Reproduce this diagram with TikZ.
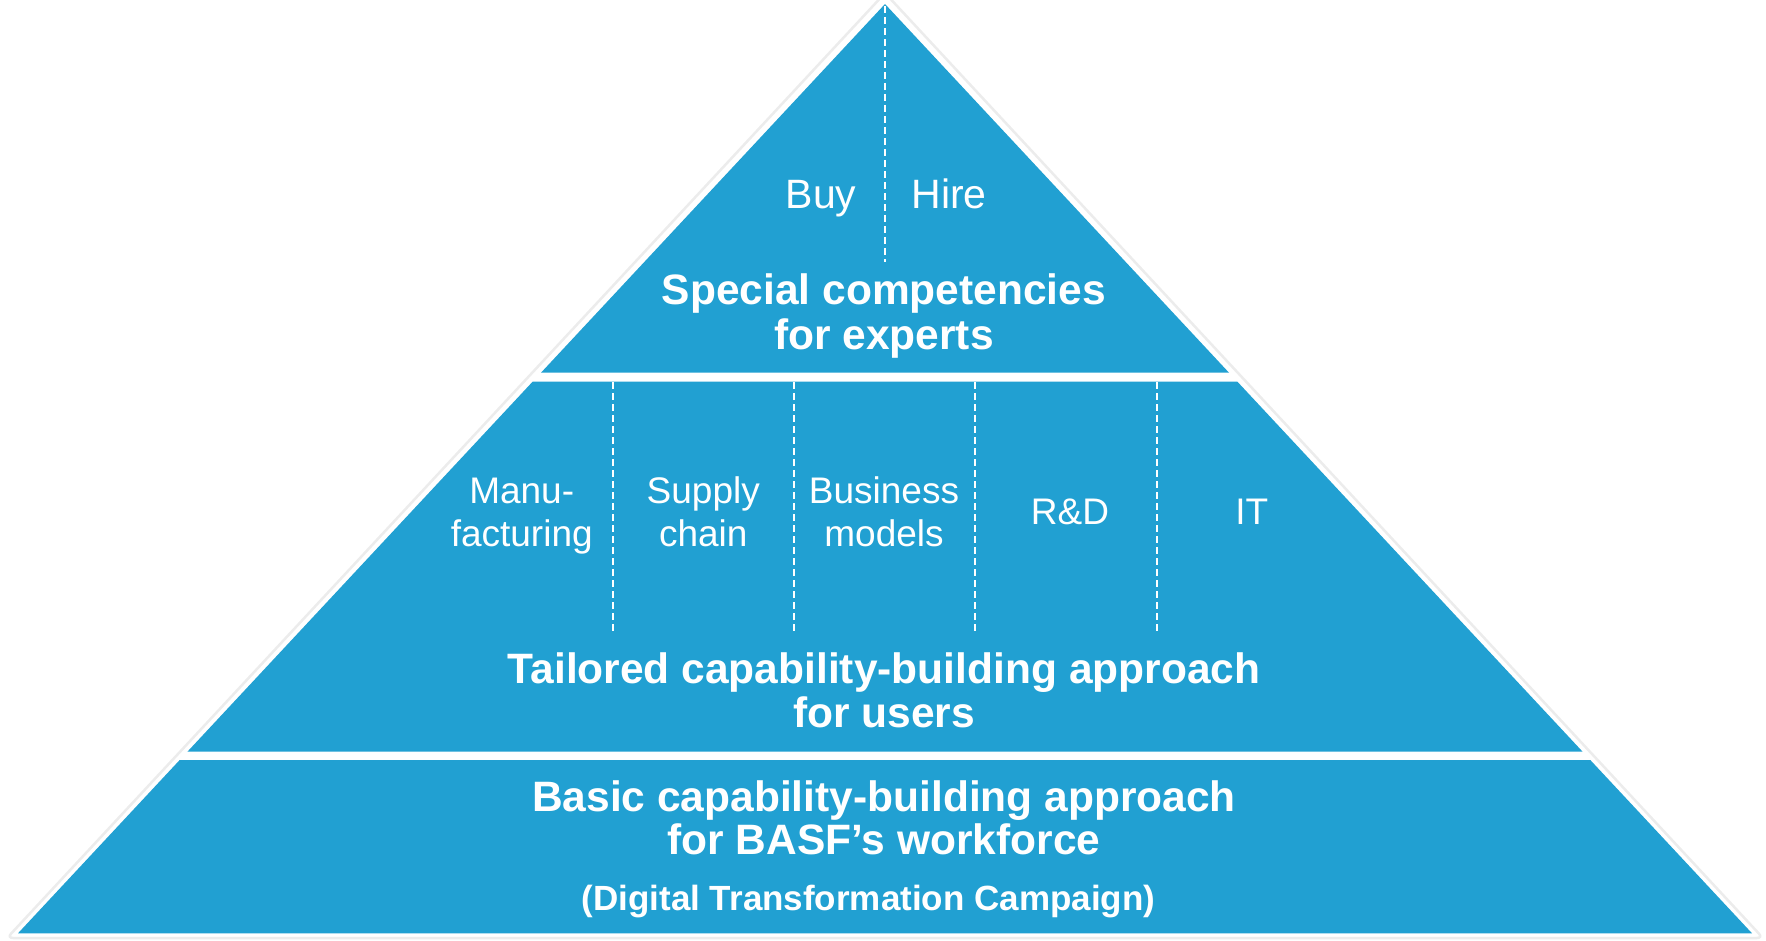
\documentclass[tikz,border=0pt]{standalone}
\usepackage{fontspec}
\setmainfont{Liberation Sans}
\definecolor{pyr}{RGB}{33,160,210}
\definecolor{shad}{RGB}{236,236,236}
\begin{document}
\begin{tikzpicture}[x=1pt,y=-1pt,
  tier/.style={fill=pyr,draw=none},
  sep/.style={draw=white,line width=2.3pt,dash pattern=on 7pt off 4pt},
  bigbold/.style={text=white,font=\fontsize{42.5}{45}\selectfont\bfseries,anchor=base,inner sep=0pt},
  smallbold/.style={text=white,font=\fontsize{35}{38}\selectfont\bfseries,anchor=base,inner sep=0pt},
  seg/.style={text=white,font=\fontsize{37}{43}\selectfont,anchor=base,inner sep=0pt},
  top/.style={text=white,font=\fontsize{41}{44}\selectfont,anchor=base,inner sep=0pt}]
\useasboundingbox (0,0) rectangle (1766,941);
\begin{scope}
\clip (0,0) rectangle (1766,941);
% outer faint outline
\draw[shad,line width=2.5pt,fill=white,rounded corners=6pt] (885,-7) -- (1763,938) -- (7,938) -- cycle;
\end{scope}
% tiers
\fill[tier] (885,4) -- (1229,372.7) -- (541,372.7) -- cycle;
\fill[tier] (532.6,381.7) -- (1237.4,381.7) -- (1582.6,751.7) -- (187.4,751.7) -- cycle;
\fill[tier] (179.7,760) -- (1590.3,760) -- (1752,933.3) -- (18,933.3) -- cycle;
% separators
\coordinate (t0) at (885,6);
\coordinate (t1) at (885,261.7);
\draw[sep] (t0) -- (t1);
\foreach \i/\x in {1/612.7,2/794,3/975.3,4/1156.7}{
  \coordinate (a\i) at (\x,382);
  \coordinate (b\i) at (\x,634);
  \draw[sep] (a\i) -- (b\i);
}
% top tier text
\node[top] (buy) at (821,209) {Buy};
\node[top] (hire) at (949,209) {Hire};
\node[bigbold] (sc1) at (884,305) {Special competencies};
\node[bigbold] (sc2) at (884,349.3) {for experts};
% middle tier
\node[seg] (m1) at (521.7,503.3) {Manu-};
\node[seg] (m2) at (521.7,546.7) {facturing};
\node[seg] (s1) at (703.3,503.3) {Supply};
\node[seg] (s2) at (703.3,546.7) {chain};
\node[seg] (bm1) at (884,503.3) {Business};
\node[seg] (bm2) at (884,546.7) {models};
\node[seg] (rd) at (1070,524.3) {R\&D};
\node[seg] (it) at (1251.7,524.3) {IT};
\node[bigbold] (tl1) at (884,683.5) {Tailored capability-building approach};
\node[bigbold] (tl2) at (884,727.5) {for users};
% bottom tier
\node[bigbold] (bs1) at (884,811) {Basic capability-building approach};
\node[bigbold] (bs2) at (884,854.5) {for BASF’s workforce};
\node[smallbold] (dtc) at (868.4,910.5) {(Digital Transformation Campaign)};
\end{tikzpicture}
\end{document}
